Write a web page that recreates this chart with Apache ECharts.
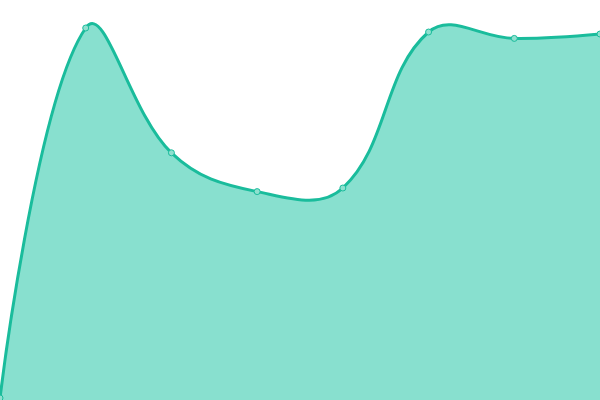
<!doctype html>
<html>
<head>
<script src="https://cdn.jsdelivr.net/npm/echarts@6/dist/echarts.min.js"></script>
<style>html,body{margin:0;padding:0;background:#fff}</style>
</head>
<body>
<div id="chart" style="width: 600px; height: 400px;"></div>
<script>
var categories = ['1', '2', '3', '4', '5', '6', '7', '8']
var values = [0.5, 93, 61.8, 52.1, 53, 92, 90.4, 91.5]

// older-style smoothing: control points follow neighbour vector, no clamping
var SMOOTH = 0.4

function dist(a, b) {
    return Math.sqrt((a[0] - b[0]) * (a[0] - b[0]) + (a[1] - b[1]) * (a[1] - b[1]))
}

function smoothPath(pts) {
    var d = 'M' + pts[0][0] + ' ' + pts[0][1]
    var cp0 = pts[0].slice()
    for (var i = 1; i < pts.length; i++) {
        var p = pts[i], prev = pts[i - 1], next = pts[i + 1]
        var cp1, v = null, ratio = 0.5
        if (!next) {
            cp1 = p.slice()
        } else {
            v = [next[0] - prev[0], next[1] - prev[1]]
            var l0 = dist(p, prev), l1 = dist(p, next)
            ratio = l1 / (l0 + l1)
            cp1 = [p[0] - v[0] * SMOOTH * (1 - ratio), p[1] - v[1] * SMOOTH * (1 - ratio)]
        }
        d += ' C' + cp0[0] + ' ' + cp0[1] + ' ' + cp1[0] + ' ' + cp1[1] + ' ' + p[0] + ' ' + p[1]
        if (v) cp0 = [p[0] + v[0] * SMOOTH * ratio, p[1] + v[1] * SMOOTH * ratio]
    }
    return d
}

function renderItem(params, api) {
    var pt = api.coord([api.value(0), api.value(1)])
    var dot = {
        type: 'circle',
        z2: 10,
        shape: { cx: pt[0], cy: pt[1], r: 3 },
        style: { fill: '#8fe0cf', stroke: '#1abc9c', lineWidth: 1 }
    }
    if (params.dataIndex !== 0) return dot
    var pts = values.map(function (v, i) { return api.coord([i, v]) })
    var base = api.coord([0, 0])[1]
    var line = smoothPath(pts)
    var area = line + ' L' + pts[pts.length - 1][0] + ' ' + base + ' L' + pts[0][0] + ' ' + base + ' Z'
    return {
        type: 'group',
        children: [
            { type: 'path', z2: 1, shape: { pathData: area }, style: { fill: '#88e0cf', stroke: null } },
            { type: 'path', z2: 2, shape: { pathData: line }, style: { fill: null, stroke: '#1abc9c', lineWidth: 3 } },
            dot
        ]
    }
}

var chart = echarts.init(document.getElementById('chart'))
chart.setOption({
    animation: false,
    grid: { left: 0, right: 0, top: 0, bottom: 0 },
    xAxis: { type: 'category', boundaryGap: false, data: categories, show: false },
    yAxis: { type: 'value', min: 0, max: 100, show: false },
    series: [{
        type: 'custom',
        renderItem: renderItem,
        clip: false,
        data: values.map(function (v, i) { return [i, v] })
    }]
})
</script>
</body>
</html>
